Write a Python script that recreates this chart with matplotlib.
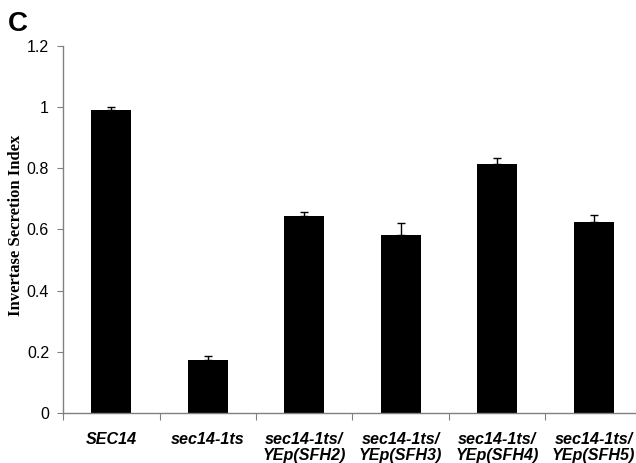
import numpy as np
import matplotlib
matplotlib.use("Agg")
import matplotlib.pyplot as plt

# strains and invertase secretion index
strains = ["SEC14", "sec14-1ts", "sec14-1ts/\nYEp(SFH2)", "sec14-1ts/\nYEp(SFH3)",
           "sec14-1ts/\nYEp(SFH4)", "sec14-1ts/\nYEp(SFH5)"]
index_vals = [0.990, 0.173, 0.644, 0.582, 0.813, 0.624]
index_err = [0.010, 0.013, 0.013, 0.040, 0.020, 0.024]
yticks = [0, 0.2, 0.4, 0.6, 0.8, 1, 1.2]
ytick_labels = ["0", "0.2", "0.4", "0.6", "0.8", "1", "1.2"]

fig = plt.figure(figsize=(6.36, 4.63), dpi=100)
# axis runs off the right edge like in the original scan
ax = fig.add_axes([63 / 636, 50 / 463, 579 / 636, 367 / 463])

x = np.arange(len(strains))
ax.bar(x, index_vals, width=0.41, color="black", zorder=2)
ax.errorbar(x, index_vals, yerr=[np.zeros(len(index_err)), index_err], fmt="none",
            ecolor="black", elinewidth=1.0, capsize=3, capthick=1.0, zorder=3)

ax.set_xlim(-0.5, len(strains) - 0.5)
ax.set_ylim(0, 1.2)

for s in ["top", "right"]:
    ax.spines[s].set_visible(False)
for s in ["left", "bottom"]:
    ax.spines[s].set_color("#808080")
    ax.spines[s].set_linewidth(1.0)

ax.set_yticks(yticks)
ax.set_yticklabels(ytick_labels, fontsize=11.5, family="Liberation Sans")
ax.tick_params(axis="y", length=4, width=0.8, color="#808080", pad=6)

# ticks sit between categories, labels at the centres
ax.set_xticks(np.arange(len(strains) + 1) - 0.5)
ax.set_xticklabels([])
ax.set_xticks(x, minor=True)
ax.set_xticklabels(strains, minor=True, fontsize=11.6, family="Liberation Sans",
                   fontweight="bold", fontstyle="italic", va="top", linespacing=1.05)
ax.tick_params(axis="x", which="major", length=5, width=0.8, color="#808080")
ax.tick_params(axis="x", which="minor", length=0, pad=14)

fig.text(16 / 636, 1 - 225 / 463, "Invertase Secretion Index", rotation=90,
         ha="center", va="center", fontsize=12, family="Liberation Serif",
         fontweight="bold")

fig.text(8 / 636, 1 - 31 / 463, "C", fontsize=20, fontweight="bold",
         family="Liberation Sans")

fig.savefig("out.png", dpi=100)
